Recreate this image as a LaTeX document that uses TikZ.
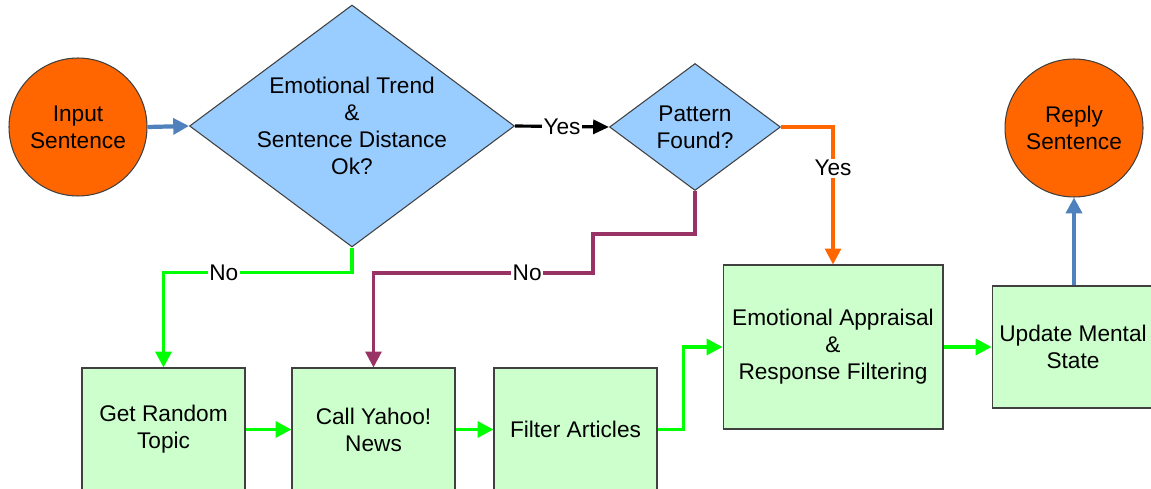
\documentclass[tikz,border=0pt]{standalone}
\usepackage{fontspec}
\setmainfont{Liberation Sans}
\usetikzlibrary{arrows.meta,shapes.geometric}
\definecolor{startorange}{HTML}{FF6600}
\definecolor{decblue}{HTML}{99CCFF}
\definecolor{stepgreen}{HTML}{CCFFCC}
\definecolor{flowgreen}{HTML}{00FF00}
\definecolor{nopurple}{HTML}{993366}
\definecolor{linkblue}{HTML}{4F81BD}
\definecolor{edgegray}{HTML}{404040}

\begin{document}
\begin{tikzpicture}[x=0.02cm,y=-0.02cm,
  font=\fontsize{12.9}{15.3}\selectfont,
  terminal/.style={circle,draw=edgegray,line width=0.6pt,fill=startorange,minimum size=2.76cm,inner sep=0pt,align=center},
  decision/.style={diamond,draw=edgegray,line width=0.6pt,fill=decblue,inner sep=0pt,aspect=1.34,align=center},
  process/.style={rectangle,draw=edgegray,line width=0.6pt,fill=stepgreen,inner sep=0pt,align=center},
  flow/.style={line width=2pt,-{Triangle[length=9pt,width=9pt]}},
  tag/.style={fill=white,text=black,inner sep=1pt}]
\useasboundingbox (0,0) rectangle (1151,489);
\clip (0,0) rectangle (1151,489);
\fill[white] (0,0) rectangle (1151,489);

\node[terminal] (input) at (78,127) {Input\\Sentence};
\node[decision,minimum width=6.5cm,minimum height=4.84cm,
  label={[align=center]center:Emotional Trend\\\&\\Sentence Distance\\Ok?}] (trend) at (352,126) {};
\node[decision,minimum width=3.42cm,minimum height=2.54cm] (pattern) at (695,127) {Pattern\\Found?};
\node[process,minimum width=3.26cm,minimum height=2.46cm] (random) at (163.5,429.5) {Get Random\\Topic};
\node[process,minimum width=3.26cm,minimum height=2.46cm] (yahoo) at (373.5,429.5) {Call Yahoo!\\News};
\node[process,minimum width=3.26cm,minimum height=2.46cm] (filter) at (575.5,429.5) {Filter Articles};
\node[process,minimum width=4.4cm,minimum height=3.28cm] (emo) at (833,347) {Emotional Appraisal\\\&\\Response Filtering};
\node[process,minimum width=3.24cm,minimum height=2.44cm] (update) at (1073,347) {Update Mental\\State};
\node[terminal] (reply) at (1074,128) {Reply\\Sentence};

\draw[flow,linkblue,line width=2.4pt] (input.east) -- (trend.west);
\draw[line width=1.8pt,-{Triangle[length=9pt,width=8pt]}] (trend.east) -- node[tag]{Yes} (pattern.west);
\draw[flow,startorange,line width=1.8pt] (pattern.east) -| node[tag,pos=0.65]{Yes} (emo.north);
\draw[flow,flowgreen] (trend.south) -- ++(0,25) -| node[tag,pos=0.34]{No} (random.north);
\draw[flow,nopurple,line width=1.8pt] (pattern.south) -- ++(0,43) -- ++(-102,0) -- ++(0,39) -| node[tag,pos=0.15]{No} (yahoo.north);
\draw[flow,flowgreen] (random) -- (yahoo);
\draw[flow,flowgreen] (yahoo) -- (filter);
\draw[flow,flowgreen] (filter.east) -- ++(26,0) |- (emo.west);
\draw[flow,flowgreen] (emo) -- (update);
\draw[flow,linkblue,line width=2.4pt] (update.north -| reply.south) -- (reply.south);
\end{tikzpicture}
\end{document}
